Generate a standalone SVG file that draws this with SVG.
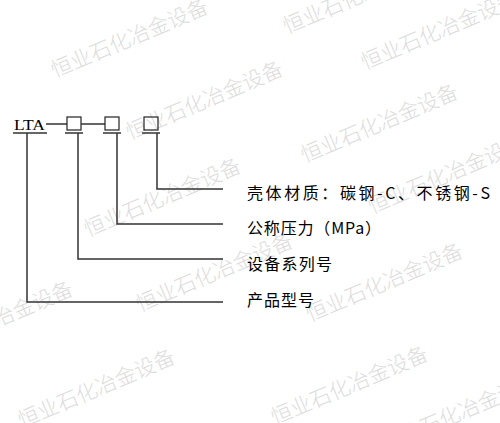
<svg xmlns="http://www.w3.org/2000/svg" width="500" height="423" viewBox="0 0 500 423">
<style>
.wm{font-family:"Noto Sans CJK SC","Noto Sans",sans-serif;font-size:21px;font-weight:300;fill:#dcdcdc}
.lbl{font-family:"Noto Sans CJK SC","Noto Sans",sans-serif;font-size:16px;fill:#000}
.ln{stroke:#333;stroke-width:1.5;fill:none}
.box{stroke:#222;stroke-width:1.2;fill:none}
</style>
<rect width="500" height="423" fill="#fff"/>
<g id="watermark">
<text class="wm" transform="translate(55,78) rotate(-23)">恒业石化冶金设备</text>
<text class="wm" transform="translate(287,34) rotate(-23)">恒业石化冶金设备</text>
<text class="wm" transform="translate(365,70) rotate(-23)">恒业石化冶金设备</text>
<text class="wm" transform="translate(130,140) rotate(-23)">恒业石化冶金设备</text>
<text class="wm" transform="translate(305,163) rotate(-23)">恒业石化冶金设备</text>
<text class="wm" transform="translate(88,237) rotate(-23)">恒业石化冶金设备</text>
<text class="wm" transform="translate(372,214) rotate(-23)">恒业石化冶金设备</text>
<text class="wm" transform="translate(140,312) rotate(-23)">恒业石化冶金设备</text>
<text class="wm" transform="translate(310,322) rotate(-23)">恒业石化冶金设备</text>
<text class="wm" transform="translate(-80,360) rotate(-23)">恒业石化冶金设备</text>
<text class="wm" transform="translate(22,428) rotate(-23)">恒业石化冶金设备</text>
<text class="wm" transform="translate(275,425) rotate(-23)">恒业石化冶金设备</text>
<text class="wm" transform="translate(385,452) rotate(-23)">恒业石化冶金设备</text>
</g>
<g id="code">
<text x="14" y="130" font-family="Liberation Serif, serif" font-size="15" textLength="31" lengthAdjust="spacingAndGlyphs" fill="#000">LTA</text>
<line class="ln" x1="13" y1="133" x2="47" y2="133"/>
<line class="ln" x1="46" y1="124" x2="67" y2="124"/>
<rect class="box" x="67" y="117" width="14" height="13"/>
<line class="ln" x1="65" y1="133" x2="83" y2="133"/>
<line class="ln" x1="81" y1="124" x2="105" y2="124"/>
<rect class="box" x="105" y="117" width="14" height="13"/>
<line class="ln" x1="103" y1="133" x2="121" y2="133"/>
<rect class="box" x="144" y="117" width="14" height="13"/>
<line class="ln" x1="142" y1="133" x2="160" y2="133"/>
</g>
<g id="connectors">
<polyline class="ln" points="157,133 157,189 223,189"/>
<polyline class="ln" points="117,133 117,224 223,224"/>
<polyline class="ln" points="78,133 78,259 223,259"/>
<polyline class="ln" points="27,133 27,302 223,302"/>
</g>
<g id="label-material"><text class="lbl" x="247" y="199" textLength="243" lengthAdjust="spacing">壳体材质：碳钢-C、不锈钢-S</text></g>
<g id="label-pressure"><text class="lbl" x="247" y="234" textLength="134" lengthAdjust="spacing">公称压力（MPa）</text></g>
<g id="label-series"><text class="lbl" x="247" y="270" textLength="85" lengthAdjust="spacing">设备系列号</text></g>
<g id="label-model"><text class="lbl" x="247" y="306" textLength="67" lengthAdjust="spacing">产品型号</text></g>
</svg>
